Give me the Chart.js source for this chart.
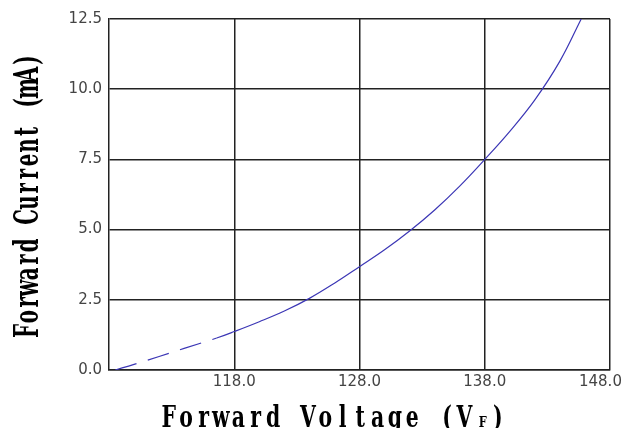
<!DOCTYPE html>
<html lang="en">
<head>
  <meta charset="UTF-8">
  <title>Forward Current vs Forward Voltage</title>
  <style>
    html, body {
      margin: 0;
      padding: 0;
      background: #fff;
    }
    #wrap {
      width: 627px;
      height: 428px;
    }
  </style>
</head>
<body>
  <div id="wrap"><canvas id="chart" width="627" height="428"></canvas></div>

  <script src="https://cdn.jsdelivr.net/npm/chart.js"></script>
  <script>
    // values
    const voltage = [108.5, 110, 112, 114, 116.6, 118, 120, 122, 124, 126, 128, 130, 132, 134, 136, 138, 140, 142, 144, 145.7];
    const current = [0.0, 0.2, 0.48, 0.77, 1.14, 1.37, 1.72, 2.1, 2.55, 3.09, 3.68, 4.28, 4.95, 5.7, 6.55, 7.5, 8.5, 9.62, 11.0, 12.5];
    const xTicks = [118, 128, 138, 148];
    const yTicks = [0, 2.5, 5, 7.5, 10, 12.5];
    const dashedUpTo = 116.6; // the curve is dashed below this voltage

    const xTitle = ['Forward Voltage (V', 'F', ')'];
    const yTitle = 'Forward Current (mA)';

    const points = voltage.map((v, i) => ({ x: v, y: current[i] }));

    // typewriter style: every character gets the same advance, squeezed sideways
    function drawMono(ctx, text, adv, sx, font) {
      ctx.save();
      ctx.scale(sx, 1);
      ctx.font = font;
      ctx.textAlign = 'center';
      ctx.textBaseline = 'alphabetic';
      for (let i = 0; i < text.length; i++) {
        ctx.fillText(text[i], (i + 0.5) * adv / sx, 0);
      }
      ctx.restore();
    }

    const axisTitles = {
      id: 'axisTitles',
      afterDraw(chart) {
        const ctx = chart.ctx;
        ctx.save();
        ctx.fillStyle = '#000';

        // x title
        const adv = 17.4;
        ctx.save();
        ctx.translate(160, 427);
        drawMono(ctx, xTitle[0], adv, 0.68, 'bold 30px "DejaVu Serif"');
        ctx.translate(xTitle[0].length * adv + 4, 0);
        drawMono(ctx, xTitle[1], 11, 0.75, 'bold 15px "DejaVu Serif"');
        ctx.translate(12, 0);
        drawMono(ctx, xTitle[2], adv, 0.68, 'bold 30px "DejaVu Serif"');
        ctx.restore();

        // y title
        ctx.save();
        ctx.translate(38, 338);
        ctx.rotate(-Math.PI / 2);
        drawMono(ctx, yTitle, 285 / yTitle.length, 0.6, 'bold 33px "DejaVu Serif"');
        ctx.restore();

        ctx.restore();
      }
    };

    const tickFont = { family: '"DejaVu Sans", sans-serif', size: 15 };
    const lastX = xTicks[xTicks.length - 1];

    new Chart(document.getElementById('chart').getContext('2d'), {
      type: 'line',
      data: {
        datasets: [{
          data: points,
          borderColor: '#3b36b5',
          borderWidth: 1.2,
          pointRadius: 0,
          fill: false,
          tension: 0.4,
          segment: {
            borderDash: ctx => ctx.p1.parsed.x <= dashedUpTo ? [22, 12] : undefined
          }
        }]
      },
      options: {
        responsive: false,
        animation: false,
        events: [],
        layout: { autoPadding: false, padding: { left: 0, top: 19, right: 17, bottom: 0 } },
        plugins: {
          legend: { display: false },
          tooltip: { enabled: false }
        },
        scales: {
          x: {
            type: 'linear',
            min: 108,
            max: 148,
            afterBuildTicks: axis => { axis.ticks = xTicks.map(v => ({ value: v })); },
            afterFit: axis => {
              axis.height = 58;
              axis.paddingLeft = 0;
              axis.paddingRight = 0;
            },
            grid: { color: '#222', lineWidth: 1.5, drawTicks: false },
            border: { color: '#222', width: 1.5 },
            ticks: {
              color: '#444',
              font: tickFont,
              padding: 3,
              maxRotation: 0,
              // the last label is pulled left so it stays inside the picture
              callback: v => v === lastX ? v.toFixed(1) + '    ' : v.toFixed(1)
            }
          },
          y: {
            min: 0,
            max: 12.5,
            afterBuildTicks: axis => { axis.ticks = yTicks.map(v => ({ value: v })); },
            afterFit: axis => {
              axis.width = 109;
              axis.paddingTop = 0;
              axis.paddingBottom = 0;
            },
            grid: { color: '#222', lineWidth: 1.5, drawTicks: false },
            border: { color: '#222', width: 1.5 },
            ticks: {
              color: '#444',
              font: tickFont,
              padding: 7,
              callback: v => v.toFixed(1)
            }
          }
        }
      },
      plugins: [axisTitles]
    });
  </script>
</body>
</html>
